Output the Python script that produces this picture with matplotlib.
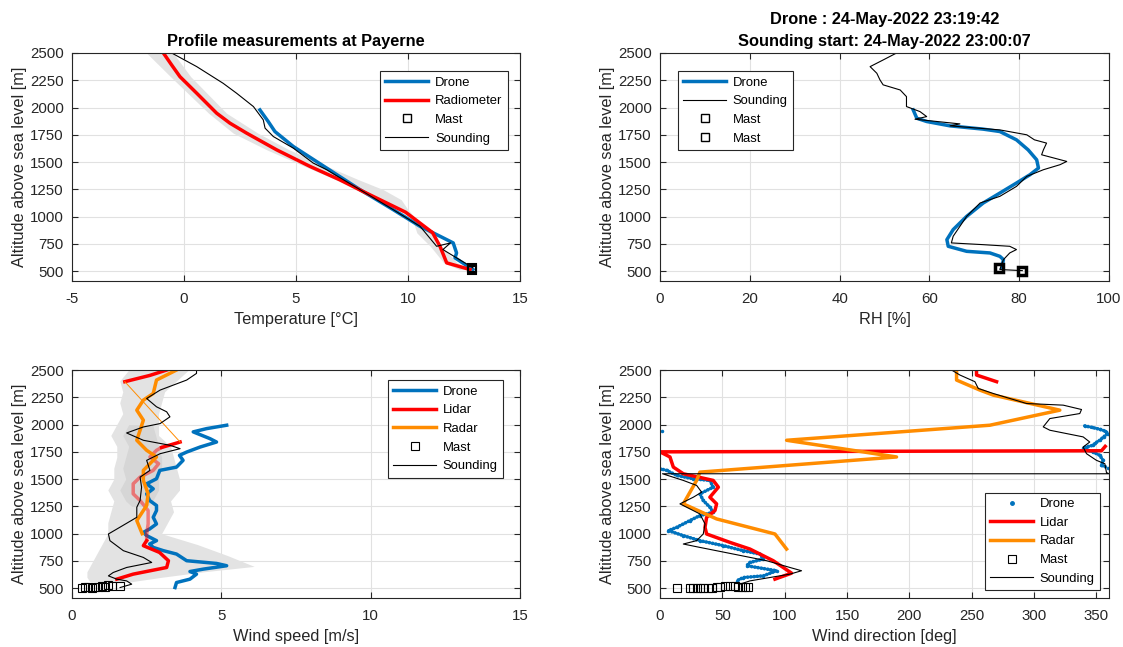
import numpy as np
import matplotlib
matplotlib.use("Agg")
from matplotlib import pyplot as plt
from matplotlib.lines import Line2D

plt.rcParams['font.family'] = ['Liberation Sans', 'DejaVu Sans']
plt.rcParams['font.size'] = 10
plt.rcParams['axes.unicode_minus'] = False

BLUE = "#0072BD"
RED = "#FF0000"
ORANGE = "#FF8C00"
TXT = "#262626"

# ---------------- temperature panel ----------------
drone_T = [3.39, 3.76, 4.06, 4.88, 6.37, 7.86, 9.34, 10.54, 11.43, 12.02, 12.17, 12.10, 12.90]
drone_T_alt = [1978, 1872, 1780, 1643, 1445, 1247, 1064, 911, 820, 759, 667, 622, 515]

radio_T = [-0.92, -0.55, -0.18, 0.57, 1.46, 2.05, 2.80, 4.14, 5.63, 6.95, 7.95, 9.90, 11.10,
           11.43, 11.73, 12.77]
radio_alt = [2500, 2390, 2283, 2131, 1948, 1857, 1765, 1612, 1460, 1338, 1235, 1040, 853,
             728, 576, 515]

band_T_alt = [2500, 2283, 1948, 1765, 1612, 1460, 1338, 1247, 1155, 1064, 972, 850, 728, 576, 515]
band_T_lo = [-1.67, -0.60, 1.10, 2.20, 3.70, 5.40, 6.80, 7.70, 8.60, 9.60, 10.20, 10.40, 11.00, 11.60, 12.30]
band_T_hi = [-0.48, 0.30, 1.90, 3.30, 4.70, 6.40, 7.80, 8.90, 9.70, 10.00, 10.40, 11.10, 11.50, 12.20, 12.90]

snd_T = [-0.55, 0.57, 1.75, 2.35, 3.10, 3.54, 3.62, 3.99, 4.88, 5.77, 6.37, 7.86, 9.34,
         10.54, 11.28, 11.90, 11.56, 12.90]
snd_T_alt = [2500, 2375, 2222, 2131, 2009, 1887, 1811, 1734, 1628, 1491, 1430, 1247, 1064,
             911, 728, 759, 698, 531]

mast_T = [12.85, 12.88]
mast_T_alt = [510, 528]

# ---------------- RH panel ----------------
drone_RH = [56.4, 57.2, 59.4, 64.6, 72.0, 75.7, 79.4, 82.0, 83.9, 84.3, 82.4, 79.4, 75.7,
            72.0, 68.3, 65.3, 63.9, 64.2, 68.3, 73.5, 75.7, 76.5, 76.1]
drone_RH_alt = [1978, 1902, 1872, 1832, 1802, 1780, 1704, 1612, 1521, 1445, 1384, 1308, 1216,
                1125, 1002, 881, 789, 728, 682, 667, 636, 606, 530]

snd_RH = [52.7, 49.7, 46.8, 48.3, 49.0, 49.7, 53.5, 54.9, 54.9, 57.9, 59.4, 56.8, 66.8, 64.6,
          75.7, 81.7, 83.4, 86.1, 85.4, 85.0, 90.6, 89.1, 85.4, 81.7, 79.4, 75.7, 71.3, 69.8,
          68.3, 66.8, 65.3, 64.9, 72.0, 77.9, 79.4, 77.9, 76.5, 75.7, 80.7]
snd_RH_alt = [2500, 2436, 2375, 2314, 2253, 2208, 2161, 2100, 2009, 1963, 1917, 1893, 1850, 1832,
              1795, 1750, 1704, 1674, 1612, 1567, 1506, 1476, 1430, 1369, 1277, 1186, 1125, 1064,
              1002, 911, 820, 759, 743, 728, 698, 667, 606, 515, 505]

mast1_RH, mast1_alt = [75.6], [525]
mast2_RH, mast2_alt = [80.7], [505]

# ---------------- wind speed panel ----------------
drone_spd = [3.45, 3.50, 3.95, 4.17, 3.95, 4.40, 5.18, 4.84, 3.84, 3.50, 3.06, 2.72, 2.60, 2.83,
             2.50, 2.39, 2.60, 2.83, 2.72, 2.83, 2.83, 2.60, 2.50, 2.72, 2.50, 2.83, 2.94, 3.50,
             3.72, 3.60, 3.84, 4.29, 4.84, 4.62, 4.06, 4.51, 5.18]
drone_spd_alt = [506, 552, 583, 629, 653, 675, 706, 727, 752, 813, 844, 874, 905, 936,
                 982, 1012, 1043, 1089, 1150, 1212, 1258, 1304, 1365, 1411, 1457, 1503, 1580, 1610,
                 1672, 1718, 1748, 1794, 1840, 1871, 1933, 1963, 1994]

lidar_spd = [1.50, 2.05, 3.17, 3.23, 2.93, 2.39, 2.50, np.nan, 3.00, 3.62, np.nan, 1.77, 2.60, 3.17]
lidar_spd_alt = [583, 629, 690, 752, 828, 890, 936, np.nan, 1790, 1840, np.nan, 2393, 2450, 2500]

lidar_low_spd = [2.50, 2.50, 2.55, 2.55, 2.28, 2.05, 2.05, 2.28, 2.72, 2.90, 2.61, 2.83, 3.00]
lidar_low_alt = [936, 997, 1089, 1212, 1304, 1365, 1457, 1518, 1580, 1641, 1703, 1764, 1790]

radar_spd = [3.50, 2.83, 2.72, 2.39, 2.17, 2.39, 2.17, 2.50, 2.83, 2.39, 2.39, 2.55, 2.50, 2.17, 2.35]
radar_spd_alt = [2500, 2408, 2285, 2224, 2132, 2040, 1856, 1764, 1703, 1580, 1488, 1365, 1258, 1120, 1000]

radar_gap_spd = [1.77, 3.62]
radar_gap_alt = [2393, 1840]

snd_spd = [4.17, 4.17, 3.84, 2.95, 2.50, 2.83, 3.17, 3.28, 2.95, 2.39, 1.83, 2.39, 3.28, 3.62,
           2.95, 2.50, 2.61, 2.28, 2.33, 2.28, 2.17, 2.17, 1.60, 1.22, 1.27, 1.72, 2.39, 2.67,
           1.83, 1.38, 1.22, 1.50, 1.83, 2.00, 1.61]
snd_spd_alt = [2500, 2469, 2408, 2316, 2239, 2163, 2117, 2071, 2009, 1978, 1923, 1856, 1810, 1779,
               1733, 1672, 1580, 1518, 1426, 1304, 1242, 1150, 1058, 997, 936, 844, 782, 736,
               690, 644, 613, 583, 567, 537, 506]

band_spd_alt = [2500, 2400, 2300, 2200, 2100, 2000, 1900, 1800, 1700, 1600, 1500, 1400, 1300,
                1200, 1100, 1000, 900, 800, 700, 650, 600, 560]
band_spd_lo = [1.9, 1.6, 1.7, 1.6, 1.7, 1.5, 1.3, 1.5, 1.5, 1.4, 1.4, 1.2, 1.4,
               1.3, 1.2, 1.2, 1.0, 0.8, 0.6, 0.5, 0.5, 0.6]
band_spd_hi = [3.9, 3.5, 3.1, 3.0, 2.9, 2.9, 2.9, 3.3, 3.4, 3.5, 3.6, 3.6, 3.3,
               3.4, 3.2, 3.0, 4.2, 5.2, 6.1, 4.4, 3.0, 2.0]
inner_spd_alt = [2000, 1900, 1800, 1700, 1600, 1500, 1400, 1300, 1250]
inner_spd_lo = [1.9, 1.7, 1.9, 1.8, 1.7, 1.8, 1.6, 1.8, 2.0]
inner_spd_hi = [2.7, 2.8, 2.9, 3.0, 3.0, 2.9, 2.9, 2.7, 2.5]

mast_spd = [0.32, 0.43, 0.54, 0.66, 0.77, 0.88, 0.99, 1.10, 1.22, 1.33, 1.61]
mast_spd_alt = [506, 510, 512, 506, 515, 508, 520, 512, 525, 518, 522]

# ---------------- wind direction panel ----------------
drone_dir = [340.6, 346.0, 352.6, 357.0, 359.3, 356.0, 352.6, 349.0, 347.3, 339.3, 343.0, 347.3,
             352.6, 355.3, 354.0, 359.3, np.nan, 1.3, np.nan,
             0.0, 5.3, 13.4, 26.7, 40.0, 42.7, 32.0, 34.7, 40.0, 42.7, 32.0, 24.0, 13.4,
             6.7, 18.7, 32.0, 50.8, 66.8, 80.1, 82.8, 72.1, 69.5, 93.5, 82.8, 66.8, 61.4]
drone_dir_alt = [1988, 1975, 1957, 1940, 1917, 1890, 1856, 1830, 1810, 1788, 1765, 1748,
                 1718, 1672, 1626, 1604, np.nan, 1939, np.nan,
                 1595, 1580, 1534, 1503, 1488, 1426, 1365, 1304, 1242, 1196, 1166, 1120, 1058,
                 1028, 982, 936, 890, 844, 813, 767, 736, 706, 660, 613, 598, 567]

lidar_dir = [253.8, 253.8, 269.9, np.nan, 357.0, 354.0, 0.0, 8.0, 10.7, 18.7, 42.7, 46.8, 40.0,
             45.4, 44.1, 37.4, 36.1, 37.4, 56.1, 72.1, 90.8, 105.5, 92.2]
lidar_dir_alt = [2500, 2454, 2393, np.nan, 1800, 1760, 1750, 1703, 1610, 1549, 1488, 1426, 1334,
                 1273, 1212, 1150, 1058, 997, 920, 859, 752, 638, 583]

radar_dir = [237.8, 237.8, 256.5, 267.2, 320.6, 264.5, 101.5, 189.7, 32.0, 29.4, 18.7, 45.4, 92.2, 101.5]
radar_dir_alt = [2500, 2408, 2316, 2270, 2132, 1994, 1856, 1703, 1564, 1488, 1273, 1135, 997, 859]

snd_dir = [233.8, 240.5, 252.5, 255.2, 267.2, 293.9, 323.3, 338.0, 336.6, 312.6, 307.3, 312.6,
           339.3, 344.6, 339.3, 342.0, 350.0, 356.7, 358.0, 360.0, 2.0, 18.7, 29.4, 33.4, 26.7,
           16.0, 21.4, 32.0, 36.1, 34.7, 29.4, 18.7, 32.0, 58.8, 85.5, 104.2, 113.5, 104.2, 72.1, 64.1]
snd_dir_alt = [2500, 2454, 2393, 2331, 2285, 2193, 2178, 2138, 2101, 2055, 1979, 1948,
               1887, 1840, 1794, 1733, 1672, 1641, 1560, 1549, 1549, 1488, 1442, 1380, 1334,
               1273, 1242, 1181, 1089, 997, 936, 905, 874, 813, 752, 690, 660, 629, 567, 537]

mast_dir = [13.4, 24.0, 26.7, 29.4, 32.0, 34.7, 38.7, 41.4, 45.4, 48.1, 52.1, 56.1, 60.1,
            62.8, 65.5, 68.1, 70.8]
mast_dir_alt = [506, 506, 506, 506, 506, 506, 506, 506, 508, 515, 520, 518, 522, 510, 515, 508, 512]

YLIM = (410, 2500)


def style_axes(ax, xlim, xticks, xlabel):
    ax.set_xlim(*xlim)
    ax.set_ylim(*YLIM)
    ax.set_xticks(xticks)
    ax.set_yticks(np.arange(500, 2501, 250))
    ax.grid(True, color="#e1e1e1", linewidth=0.8)
    ax.set_axisbelow(True)
    ax.tick_params(direction="in", length=4, top=True, right=True, colors=TXT,
                   labelsize=10.8, width=0.8)
    ax.tick_params(axis="x", pad=8)
    ax.tick_params(axis="y", pad=6)
    for sp in ax.spines.values():
        sp.set_color(TXT)
        sp.set_linewidth(0.8)
    ax.set_xlabel(xlabel, fontsize=11.8, color=TXT, labelpad=4)
    ax.set_ylabel("Altitude above sea level [m]", fontsize=11.8, color=TXT, labelpad=2)


def legend(ax, loc, anchor, handles=None, labels=None):
    kw = dict(loc=loc, bbox_to_anchor=anchor, fontsize=9.4, fancybox=False,
              framealpha=1, edgecolor=TXT, handlelength=3.3, labelspacing=0.5,
              borderpad=0.4, handletextpad=0.5, borderaxespad=0)
    if handles is not None:
        leg = ax.legend(handles, labels, **kw)
    else:
        leg = ax.legend(**kw)
    leg.get_frame().set_linewidth(0.8)
    return leg


fig = plt.figure(figsize=(11.23, 6.47), dpi=100)
ax1 = fig.add_axes([0.0641, 0.5657, 0.3989, 0.3524])
ax2 = fig.add_axes([0.5877, 0.5657, 0.3998, 0.3524])
ax3 = fig.add_axes([0.0641, 0.0757, 0.3989, 0.3524])
ax4 = fig.add_axes([0.5877, 0.0757, 0.3998, 0.3524])

sq = dict(marker="s", linestyle="none", markerfacecolor="none", markeredgecolor="black")

# temperature
ax1.fill_betweenx(band_T_alt, band_T_lo, band_T_hi, color="#e3e3e3", linewidth=0)
ax1.plot(drone_T, drone_T_alt, color=BLUE, lw=2.5, label="Drone")
ax1.plot(radio_T, radio_alt, color=RED, lw=2.5, label="Radiometer")
ax1.plot(mast_T, mast_T_alt, markersize=6, markeredgewidth=1.5, label="Mast", **sq)
ax1.plot(snd_T, snd_T_alt, color="black", lw=0.8, label="Sounding")
style_axes(ax1, (-5, 15), np.arange(-5, 16, 5), "Temperature [°C]")
ax1.set_title("Profile measurements at Payerne", fontsize=11.8, fontweight="bold", pad=5)
leg1 = legend(ax1, "upper left", (0.688, 0.92))
leg1.legend_handles[2].set_markeredgewidth(1)

# RH
ax2.plot(drone_RH, drone_RH_alt, color=BLUE, lw=2.5, label="Drone")
ax2.plot(snd_RH, snd_RH_alt, color="black", lw=0.8, label="Sounding")
ax2.plot(mast1_RH, mast1_alt, markersize=6, markeredgewidth=2.5, label="Mast", **sq)
ax2.plot(mast2_RH, mast2_alt, markersize=6, markeredgewidth=2.5, label="Mast", **sq)
style_axes(ax2, (0, 100), np.arange(0, 101, 20), "RH [%]")
ax2.set_title("Drone : 24-May-2022 23:19:42\nSounding start: 24-May-2022 23:00:07",
              fontsize=11.8, fontweight="bold", pad=5, linespacing=1.55)
leg2 = legend(ax2, "upper left", (0.04, 0.92))
for h in leg2.legend_handles[2:]:
    h.set_markeredgewidth(1)

# wind speed
ax3.fill_betweenx(band_spd_alt, band_spd_lo, band_spd_hi, color="#e3e3e3", linewidth=0)
ax3.fill_betweenx(inner_spd_alt, inner_spd_lo, inner_spd_hi, color="#d6d6d6", linewidth=0)
ax3.plot(drone_spd, drone_spd_alt, color=BLUE, lw=2.5, label="Drone")
ax3.plot(lidar_low_spd, lidar_low_alt, color=RED, lw=2.5, alpha=0.45)
ax3.plot(lidar_spd, lidar_spd_alt, color=RED, lw=2.5, label="Lidar")
ax3.plot(radar_gap_spd, radar_gap_alt, color=ORANGE, lw=0.7)
ax3.plot(radar_spd, radar_spd_alt, color=ORANGE, lw=2.5, label="Radar")
ax3.plot(mast_spd, mast_spd_alt, markersize=6, markeredgewidth=0.8, label="Mast", **sq)
ax3.plot(snd_spd, snd_spd_alt, color="black", lw=0.8, label="Sounding")
style_axes(ax3, (0, 15), np.arange(0, 16, 5), "Wind speed [m/s]")
legend(ax3, "upper left", (0.705, 0.955))

# wind direction
ax4.plot(drone_dir, drone_dir_alt, color=BLUE, lw=2.6, linestyle=(0, (0.1, 0.8)),
         dash_capstyle="round", marker=".", markersize=3)
ax4.plot(lidar_dir, lidar_dir_alt, color=RED, lw=2.5)
ax4.plot(radar_dir, radar_dir_alt, color=ORANGE, lw=2.5)
ax4.plot(mast_dir, mast_dir_alt, markersize=6, markeredgewidth=0.8, **sq)
ax4.plot(snd_dir, snd_dir_alt, color="black", lw=0.8)
style_axes(ax4, (0, 360), np.arange(0, 351, 50), "Wind direction [deg]")
h4 = [Line2D([], [], color=BLUE, marker=".", markersize=5, linestyle="none"),
      Line2D([], [], color=RED, lw=2.5),
      Line2D([], [], color=ORANGE, lw=2.5),
      Line2D([], [], markersize=6, markeredgewidth=0.8, **sq),
      Line2D([], [], color="black", lw=0.8)]
legend(ax4, "lower right", (0.98, 0.035), h4, ["Drone", "Lidar", "Radar", "Mast", "Sounding"])

fig.savefig("out.png", dpi=100, facecolor="white")
